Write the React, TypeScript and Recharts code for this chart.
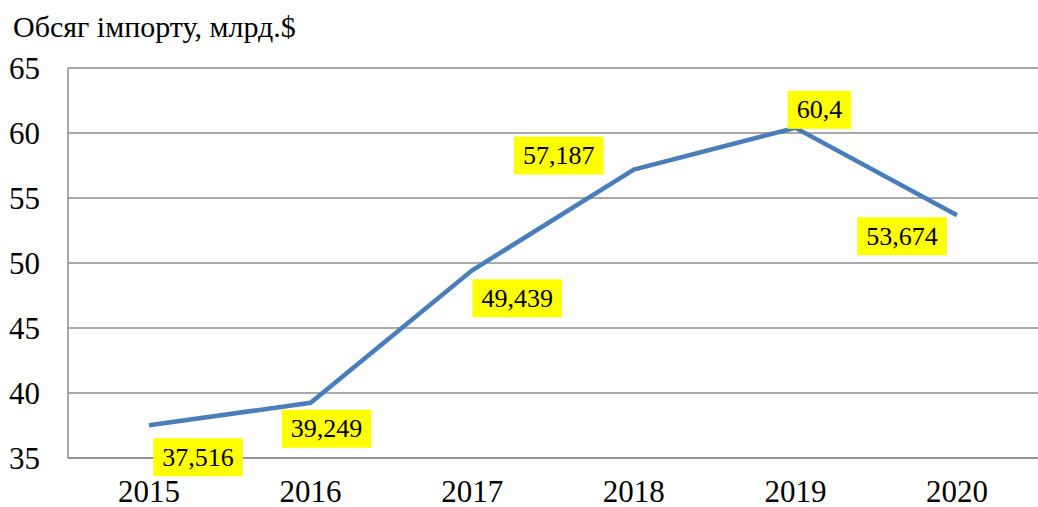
import { useLayoutEffect, useRef } from "react";
import { CartesianGrid, LabelList, Line, LineChart, XAxis, YAxis } from "recharts";

const YEARS = ["2015", "2016", "2017", "2018", "2019", "2020"];
const IMPORTS = [37.516, 39.249, 49.439, 57.187, 60.4, 53.674];
const Y_TICKS = [35, 40, 45, 50, 55, 60, 65];

// where each yellow label sits relative to its point (label centre)
const LABEL_OFFSETS: [number, number][] = [
  [49, 32],
  [16, 26],
  [45, 28],
  [-75, -14],
  [24, -18],
  [-55, 21],
];

const FONT = ["Liberation Serif", "Times New Roman"].map((f) => `"${f}"`).join(", ");
const LABEL_SIZE = 26;
const TICK_SIZE = 31;

const data = YEARS.map((year, i) => ({ year, value: IMPORTS[i] }));

function fmt(v: number) {
  return String(v).replace(".", ",");
}

function YellowLabel({ x, y, value, index }: any) {
  const [dx, dy] = LABEL_OFFSETS[index] ?? [0, -20];
  const text = fmt(Number(value));
  const w = [...text].reduce((s, c) => s + (c === "," ? 0.25 : 0.5), 0) * LABEL_SIZE + 18;
  const h = 38;
  const cx = Number(x) + dx;
  const cy = Number(y) + dy;
  return (
    <g>
      <rect x={cx - w / 2} y={cy - h / 2} width={w} height={h} fill="#FFFF00" />
      <text
        x={cx}
        y={cy + LABEL_SIZE * 0.33}
        textAnchor="middle"
        fontSize={LABEL_SIZE}
        style={{ fontFamily: FONT }}
        fill="#000"
      >
        {text}
      </text>
    </g>
  );
}

export default function App() {
  const ref = useRef<HTMLDivElement>(null);

  // force the serif face onto every text node, whatever else styles the page
  useLayoutEffect(() => {
    const root = ref.current;
    if (!root) return;
    const apply = () => {
      root.style.setProperty("font-family", FONT, "important");
      root.querySelectorAll<HTMLElement | SVGElement>("div, text, tspan").forEach((el) => {
        el.style.setProperty("font-family", FONT, "important");
      });
    };
    apply();
    const t = setTimeout(apply, 0);
    return () => clearTimeout(t);
  });

  return (
    <div
      ref={ref}
      style={{ position: "absolute", left: 0, top: 0, width: 1038, height: 507, background: "#fff", fontFamily: FONT }}
    >
      <div
        style={{
          position: "absolute",
          left: 13,
          top: 10,
          fontFamily: FONT,
          fontSize: 30,
          lineHeight: 1.1,
          color: "#000",
          whiteSpace: "nowrap",
        }}
      >
        Обсяг імпорту, млрд.$
      </div>
      <LineChart width={1038} height={507} data={data} margin={{ top: 68, right: 0, left: 0, bottom: 0 }}>
        <CartesianGrid vertical={false} stroke="#8c8c8c" strokeWidth={1.5} />
        <XAxis
          dataKey="year"
          height={49}
          padding={{ left: 81, right: 81 }}
          tickSize={0}
          tickMargin={22}
          axisLine={{ stroke: "#8c8c8c", strokeWidth: 1.5 }}
          tick={{ fontSize: TICK_SIZE, fill: "#000", style: { fontFamily: FONT } }}
        />
        <YAxis
          width={68}
          domain={[35, 65]}
          ticks={Y_TICKS}
          tickSize={0}
          tickMargin={28}
          axisLine={{ stroke: "#8c8c8c", strokeWidth: 1.5 }}
          tick={{ fontSize: TICK_SIZE, fill: "#000", style: { fontFamily: FONT } }}
        />
        <Line
          type="linear"
          dataKey="value"
          stroke="#4A7EBB"
          strokeWidth={4.5}
          dot={false}
          isAnimationActive={false}
        >
          <LabelList dataKey="value" content={<YellowLabel />} />
        </Line>
      </LineChart>
    </div>
  );
}
